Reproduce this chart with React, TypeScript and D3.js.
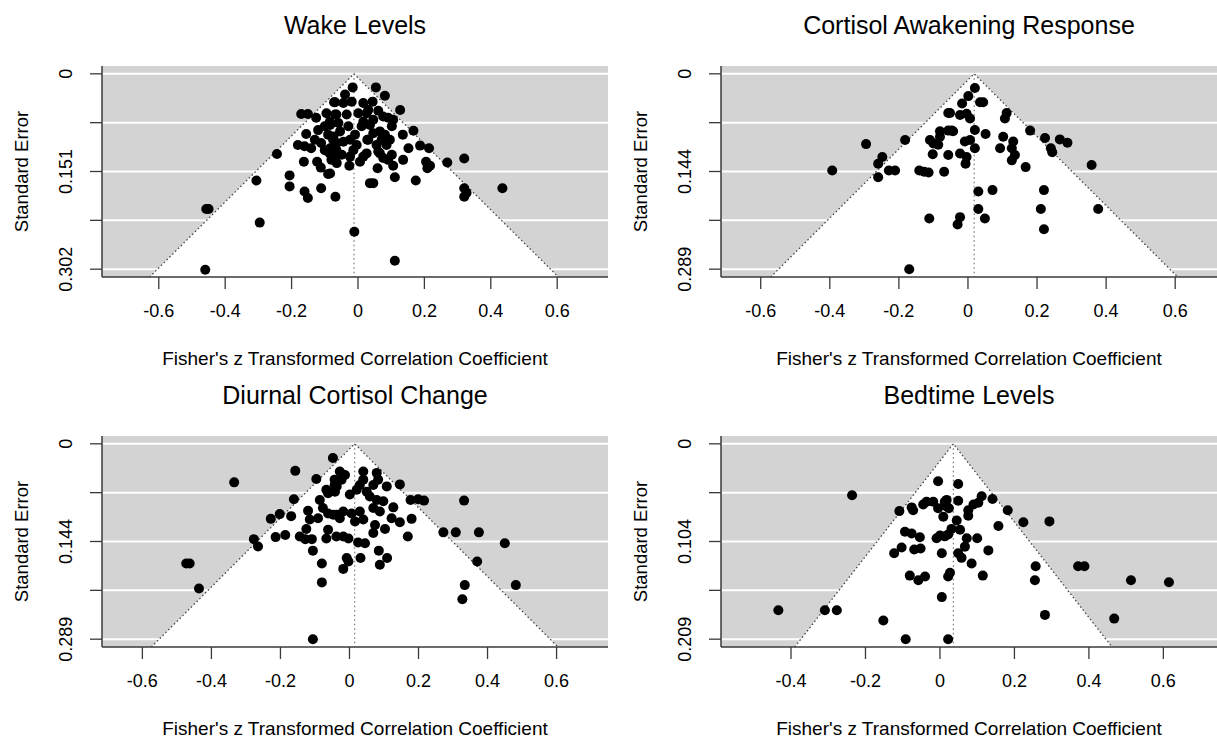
import React from "react";
import * as d3 from "d3";

type Pt = [number, number]; // [Fisher's z, standard error]

const wakeLevels: Pt[] = [
  [-0.457,0.209],[-0.450,0.209],[-0.460,0.303],[-0.296,0.230],[-0.306,0.165],[-0.244,0.124],[-0.206,0.157],[-0.206,0.174],[-0.163,0.136],[-0.161,0.182],[-0.151,0.192],[-0.123,0.136],[-0.112,0.145],[-0.111,0.177],[-0.090,0.155],[-0.068,0.190],[-0.171,0.062],[-0.151,0.062],[-0.126,0.068],[-0.095,0.061],[-0.072,0.044],[-0.156,0.093],[-0.181,0.110],[-0.161,0.112],[-0.141,0.115],[-0.080,0.133],[-0.016,0.021],[0.054,0.021],[0.081,0.034],[0.044,0.043],[-0.069,0.044],[0.127,0.056],[0.061,0.057],[0.167,0.088],[0.135,0.094],[0.187,0.111],[0.214,0.115],[0.152,0.115],[0.269,0.137],[0.320,0.131],[0.205,0.136],[0.209,0.146],[0.217,0.142],[0.136,0.133],[0.111,0.160],[0.174,0.165],[0.036,0.169],[0.046,0.169],[0.059,0.146],[0.320,0.177],[0.327,0.184],[0.320,0.190],[0.435,0.177],[-0.011,0.244],[0.111,0.289],[-0.026,0.142],[0.006,0.136],[0.016,0.128],[0.102,0.125],[0.091,0.133],[0.106,0.142],[0.066,0.123],[0.076,0.130],[0.028,0.102],[-0.084,0.154],
  [-0.039,0.032],[-0.044,0.045],[-0.019,0.043],[-0.069,0.063],[-0.034,0.063],[0.001,0.061],[0.026,0.061],[0.016,0.074],[0.011,0.081],[0.036,0.079],[0.046,0.071],[0.076,0.066],[0.091,0.068],[0.106,0.071],[0.102,0.081],[0.066,0.089],[0.081,0.094],[0.096,0.102],[0.071,0.102],[0.086,0.110],[0.056,0.110],[0.061,0.120],[0.031,0.102],[-0.009,0.094],[-0.024,0.102],[-0.004,0.110],[-0.014,0.118],[-0.044,0.105],[-0.064,0.107],[-0.074,0.097],[-0.054,0.089],[-0.059,0.076],[-0.084,0.079],[-0.079,0.128],[-0.049,0.125],[-0.024,0.128],[0.026,0.123],[-0.064,0.138],[-0.084,0.115],[0.046,0.092],[-0.029,0.081],[0.016,0.045],[0.031,0.056],
  [-0.120,0.087],[-0.100,0.081],[-0.090,0.094],[-0.075,0.102],[-0.111,0.107],[-0.085,0.123],[-0.065,0.118],[-0.130,0.102],[-0.100,0.118],[-0.070,0.133],[-0.085,0.074],[-0.065,0.063],
];

const cortisolAwakening: Pt[] = [
  [-0.295,0.104],[-0.393,0.143],[-0.248,0.123],[-0.260,0.133],[-0.260,0.153],[-0.229,0.143],[-0.211,0.143],[-0.182,0.098],[-0.141,0.143],[-0.127,0.145],[-0.114,0.146],[-0.069,0.145],[-0.102,0.119],[-0.110,0.098],[-0.100,0.103],[-0.086,0.105],[-0.081,0.085],[-0.081,0.093],[-0.057,0.058],[-0.057,0.084],[-0.057,0.120],[-0.112,0.214],[-0.170,0.289],
  [0.020,0.021],[0.001,0.033],[-0.017,0.044],[0.035,0.042],[0.044,0.042],[-0.052,0.058],[-0.023,0.061],[-0.004,0.059],[0.006,0.066],[0.112,0.058],[0.107,0.066],[-0.047,0.084],[-0.043,0.085],[0.020,0.083],[0.051,0.089],[0.180,0.084],[0.102,0.093],[0.131,0.100],[0.127,0.110],[0.136,0.120],[0.127,0.128],[0.093,0.110],[0.223,0.095],[0.266,0.097],[0.288,0.102],[0.240,0.110],[0.244,0.116],[0.358,0.135],[0.167,0.138],[-0.009,0.100],[0.006,0.098],[0.020,0.110],[-0.023,0.118],[-0.004,0.123],[-0.007,0.133],[0.030,0.174],[0.071,0.172],[0.220,0.172],[0.030,0.200],[0.049,0.214],[0.211,0.200],[0.377,0.200],[-0.023,0.212],[-0.030,0.223],[0.220,0.230],
];

const diurnalChange: Pt[] = [
  [-0.334,0.057],[-0.157,0.040],[-0.096,0.052],[-0.048,0.021],[-0.473,0.177],[-0.463,0.177],[-0.436,0.214],[-0.277,0.141],[-0.265,0.152],[-0.228,0.111],[-0.202,0.104],[-0.169,0.107],[-0.161,0.082],[-0.214,0.138],[-0.186,0.135],[-0.144,0.137],[-0.128,0.141],[-0.109,0.141],[-0.120,0.099],[-0.115,0.112],[-0.091,0.110],[-0.086,0.083],[-0.077,0.095],[-0.062,0.103],[-0.125,0.126],[-0.067,0.068],[-0.062,0.073],[-0.043,0.061],[-0.043,0.053],[-0.062,0.127],[-0.067,0.140],[-0.106,0.158],[-0.080,0.177],[-0.080,0.205],[-0.106,0.289],[-0.038,0.105],[-0.038,0.137],
  [-0.028,0.041],[-0.013,0.046],[-0.023,0.053],[0.040,0.041],[0.040,0.053],[0.079,0.043],[0.083,0.053],[0.069,0.061],[0.108,0.063],[0.146,0.060],[0.030,0.061],[0.021,0.068],[0.050,0.071],[0.059,0.078],[0.001,0.075],[-0.037,0.063],[-0.042,0.071],[0.079,0.083],[0.098,0.085],[0.069,0.095],[0.088,0.100],[0.127,0.094],[0.177,0.083],[0.199,0.082],[0.216,0.084],[0.332,0.084],[0.180,0.111],[0.122,0.110],[0.146,0.116],[-0.018,0.100],[0.006,0.103],[0.030,0.100],[0.040,0.112],[0.016,0.115],[-0.047,0.105],[-0.028,0.110],[0.074,0.120],[0.103,0.126],[0.069,0.132],[-0.018,0.137],[-0.003,0.140],[0.025,0.146],[0.045,0.147],[0.169,0.137],[0.272,0.131],[0.308,0.131],[0.375,0.131],[0.450,0.147],[0.370,0.174],[0.334,0.209],[0.482,0.209],[0.327,0.230],[-0.008,0.169],[-0.003,0.174],[-0.018,0.185],[0.032,0.169],[0.085,0.158],[0.109,0.169],[0.088,0.179],
];

const bedtimeLevels: Pt[] = [
  [-0.236,0.055],[-0.005,0.040],[-0.434,0.178],[-0.309,0.178],[-0.277,0.178],[-0.152,0.189],[-0.092,0.209],[0.022,0.209],[-0.109,0.072],[-0.076,0.068],[-0.072,0.071],[-0.045,0.065],[-0.036,0.062],[-0.018,0.062],[-0.005,0.069],[0.013,0.062],[0.018,0.067],[0.009,0.078],[-0.094,0.094],[-0.076,0.096],[-0.054,0.100],[-0.009,0.101],[0.000,0.098],[0.013,0.099],[-0.123,0.117],[-0.103,0.111],[-0.069,0.113],[-0.052,0.112],[0.005,0.117],[-0.081,0.141],[-0.058,0.146],[-0.040,0.142],[0.022,0.142],[0.005,0.164],
  [0.049,0.043],[0.049,0.061],[0.018,0.060],[0.024,0.069],[0.076,0.071],[0.076,0.077],[0.090,0.065],[0.103,0.063],[0.112,0.056],[0.141,0.059],[0.182,0.071],[0.224,0.084],[0.294,0.083],[0.157,0.088],[0.045,0.082],[0.054,0.092],[0.031,0.091],[0.022,0.097],[0.072,0.101],[0.067,0.110],[0.100,0.101],[0.049,0.117],[0.058,0.122],[0.085,0.128],[0.130,0.114],[0.027,0.138],[0.115,0.141],[0.257,0.131],[0.255,0.146],[0.371,0.131],[0.388,0.131],[0.513,0.146],[0.615,0.148],[0.282,0.183],[0.468,0.187],
];

const titles = ["Wake Levels", "Cortisol Awakening Response", "Diurnal Cortisol Change", "Bedtime Levels"];
const estimates = [-0.012, 0.018, 0.015, 0.036];
const seMax = [0.302, 0.289, 0.289, 0.209];
const seLabels = [["0", "0.151", "0.302"], ["0", "0.144", "0.289"], ["0", "0.144", "0.289"], ["0", "0.104", "0.209"]];
const xTickValues = [
  [-0.6, -0.4, -0.2, 0, 0.2, 0.4, 0.6],
  [-0.6, -0.4, -0.2, 0, 0.2, 0.4, 0.6],
  [-0.6, -0.4, -0.2, 0, 0.2, 0.4, 0.6],
  [-0.4, -0.2, 0, 0.2, 0.4, 0.6],
];
const xDomains: [number, number][] = [[-0.771, 0.753], [-0.715, 0.721], [-0.717, 0.749], [-0.588, 0.744]];
const datasets = [wakeLevels, cortisolAwakening, diurnalChange, bedtimeLevels];
const xLabel = "Fisher's z Transformed Correlation Coefficient";
const yLabel = "Standard Error";

const FONT = "'Liberation Sans', Arial, Helvetica, sans-serif";
const colLeft = [102, 721];
const colRight = [608, 1217];
const rowTop = [66, 436];
const rowBottom = [277, 647];

function Panel({ i }: { i: number }) {
  const col = i % 2;
  const row = Math.floor(i / 2);
  const x0 = colLeft[col], x1 = colRight[col];
  const y0 = rowTop[row], y1 = rowBottom[row];
  const m = seMax[i];
  const x = d3.scaleLinear().domain(xDomains[i]).range([x0, x1]);
  const y = d3.scaleLinear().domain([-0.04 * m, 1.04 * m]).range([y0, y1]);
  const est = estimates[i];
  const seBottom = 1.04 * m;
  const yTicks = [0, 0.25, 0.5, 0.75, 1].map((f) => f * m);
  const funnel: [number, number][] = [
    [est - 1.96 * seBottom, seBottom],
    [est, 0],
    [est + 1.96 * seBottom, seBottom],
  ];
  const line = d3.line<[number, number]>().x((d) => x(d[0])).y((d) => y(d[1]));
  const cx = (x0 + x1) / 2;
  const clipId = `clip${i}`;
  const axisColor = "#3a3a3a";
  return (
    <g>
      <defs>
        <clipPath id={clipId}>
          <rect x={x0} y={y0} width={x1 - x0} height={y1 - y0} />
        </clipPath>
      </defs>
      <rect x={x0} y={y0} width={x1 - x0} height={y1 - y0} fill="#d3d3d3" />
      {yTicks.map((t, k) => (
        <line key={k} x1={x0} x2={x1} y1={y(t)} y2={y(t)} stroke="#ffffff" strokeWidth={2} />
      ))}
      <g clipPath={`url(#${clipId})`}>
        <path d={line(funnel) + "Z"} fill="#ffffff" />
        <path d={line(funnel) || ""} fill="none" stroke="#444" strokeWidth={1.3} strokeDasharray="1.5 2.5" />
        <line x1={x(est)} x2={x(est)} y1={y(0)} y2={y(seBottom)} stroke="#777" strokeWidth={1.2} strokeDasharray="1.5 3" />
        {datasets[i].map((d, k) => (
          <circle key={k} cx={x(d[0])} cy={y(d[1])} r={5} fill="#000" />
        ))}
      </g>
      <line x1={x0} x2={x0} y1={y0} y2={y1} stroke={axisColor} strokeWidth={1.5} />
      <line x1={x0} x2={x1} y1={y1} y2={y1} stroke={axisColor} strokeWidth={1.5} />
      {yTicks.map((t, k) => (
        <line key={k} x1={x0 - 12} x2={x0} y1={y(t)} y2={y(t)} stroke={axisColor} strokeWidth={1.3} />
      ))}
      {[0, 2, 4].map((k, j) => (
        <text
          key={k}
          x={x0 - 36}
          y={y(yTicks[k])}
          transform={`rotate(-90, ${x0 - 36}, ${y(yTicks[k])})`}
          textAnchor="middle"
          dominantBaseline="central"
          fontSize={18}
          fontFamily={FONT}
          fill="#000"
        >
          {seLabels[i][j]}
        </text>
      ))}
      {xTickValues[i].map((t, k) => (
        <g key={k}>
          <line x1={x(t)} x2={x(t)} y1={y1} y2={y1 + 12} stroke={axisColor} strokeWidth={1.3} />
          <text x={x(t)} y={y1 + 34} textAnchor="middle" dominantBaseline="central" fontSize={18} fontFamily={FONT} fill="#000">
            {String(t)}
          </text>
        </g>
      ))}
      <text
        x={x0 - 81}
        y={(y0 + y1) / 2}
        transform={`rotate(-90, ${x0 - 81}, ${(y0 + y1) / 2})`}
        textAnchor="middle"
        dominantBaseline="central"
        fontSize={18.5}
        fontFamily={FONT}
        fill="#000"
      >
        {yLabel}
      </text>
      <text x={cx} y={y1 + 81} textAnchor="middle" dominantBaseline="central" fontSize={19} fontFamily={FONT} fill="#000">
        {xLabel}
      </text>
      <text x={cx} y={y0 - 41} textAnchor="middle" dominantBaseline="central" fontSize={25} fontFamily={FONT} fill="#000">
        {titles[i]}
      </text>
    </g>
  );
}

export default function App() {
  return (
    <svg
      width={1217}
      height={739}
      viewBox="0 0 1217 739"
      style={{ position: "absolute", left: 0, top: 0, background: "#fff", display: "block" }}
    >
      <rect x={0} y={0} width={1217} height={739} fill="#fff" />
      {[0, 1, 2, 3].map((i) => (
        <Panel key={i} i={i} />
      ))}
    </svg>
  );
}
